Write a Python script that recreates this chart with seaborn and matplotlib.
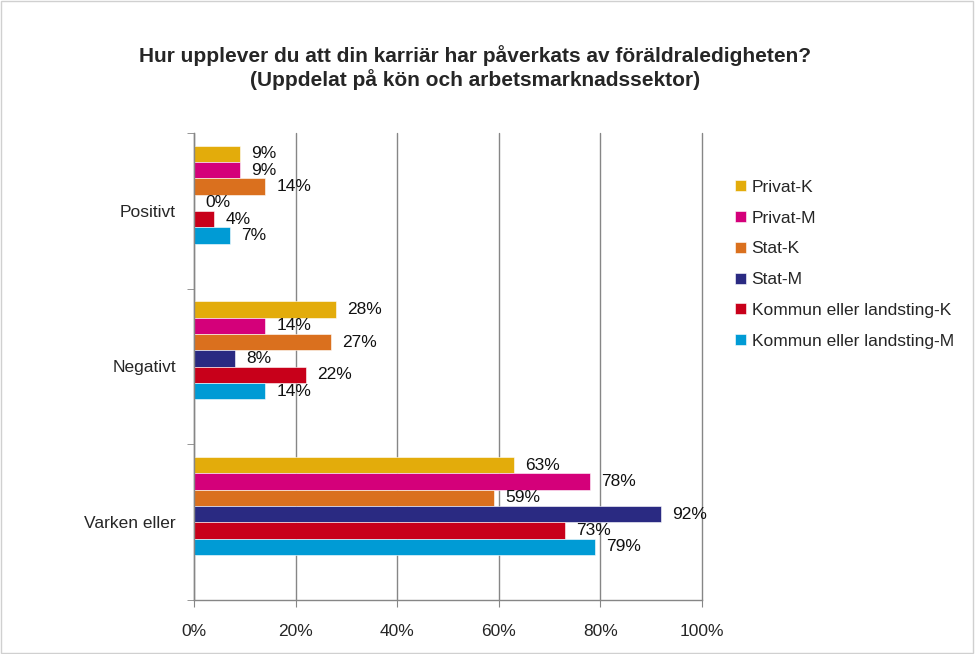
import pandas as pd
import matplotlib.pyplot as plt
import seaborn as sns
from matplotlib.patches import Rectangle
from matplotlib.ticker import FixedLocator

categories = ['Positivt', 'Negativt', 'Varken eller']
groups = ['Privat-K', 'Privat-M', 'Stat-K', 'Stat-M',
          'Kommun eller landsting-K', 'Kommun eller landsting-M']
privat_k = [9, 28, 63]
privat_m = [9, 14, 78]
stat_k = [14, 27, 59]
stat_m = [0, 8, 92]
kommun_k = [4, 22, 73]
kommun_m = [7, 14, 79]
colors = ['#E3AC0B', '#D4007A', '#DA701E', '#2A2A82', '#C8001A', '#009BD5']

series = [privat_k, privat_m, stat_k, stat_m, kommun_k, kommun_m]
rows = []
for g, vals in zip(groups, series):
    for c, v in zip(categories, vals):
        rows.append({'category': c, 'group': g, 'value': v})
df = pd.DataFrame(rows)

sns.set_style('white')
plt.rcParams['font.family'] = ['Liberation Sans', 'DejaVu Sans']

fig = plt.figure(figsize=(9.75, 6.54), dpi=100)
ax = fig.add_axes([0.199, 0.0826, 0.521, 0.7141])

sns.barplot(data=df, x='value', y='category', hue='group', order=categories,
            hue_order=groups, palette=colors, width=0.63, orient='h',
            saturation=1, ax=ax, edgecolor='white', linewidth=0.4)

for cont in ax.containers:
    ax.bar_label(cont, labels=[f'{b.get_width():.0f}%' for b in cont],
                 padding=8, fontsize=12.5, color='#111111')

ax.set_xlim(0, 100)
ax.set_ylim(2.603, -0.397)
ax.set_xticks(range(0, 101, 20))
ax.set_xticklabels([f'{t}%' for t in range(0, 101, 20)], fontsize=12.5)
ax.set_yticks([i + 0.103 for i in range(len(categories))])
ax.set_yticklabels(categories, fontsize=12.5)
ax.yaxis.set_minor_locator(FixedLocator([i - 0.397 for i in range(len(categories) + 1)]))
ax.tick_params(axis='y', which='major', length=0, pad=13)
ax.tick_params(axis='y', which='minor', length=5, color='#868686', direction='out', left=True)
ax.tick_params(axis='x', length=5, color='#868686', direction='out', bottom=True, pad=12)
ax.set_xlabel('')
ax.set_ylabel('')

ax.grid(axis='x', color='#868686', linewidth=1)
for gl in ax.get_xgridlines():
    gl.set_clip_on(False)
ax.set_axisbelow(True)
for s in ['top', 'right']:
    ax.spines[s].set_visible(False)
for s in ['left', 'bottom']:
    ax.spines[s].set_color('#868686')
    ax.spines[s].set_linewidth(1)

handles, labels = ax.get_legend_handles_labels()
ax.get_legend().remove()
fig.legend(handles, labels, loc='upper left', bbox_to_anchor=(0.738, 0.749),
           frameon=False, handlelength=0.6, handleheight=0.6, labelspacing=0.91,
           handletextpad=0.35, fontsize=12.5)

fig.text(0.487, 0.897,
         'Hur upplever du att din karriär har påverkats av föräldraledigheten?\n'
         '(Uppdelat på kön och arbetsmarknadssektor)',
         ha='center', va='center', fontsize=15, fontweight='bold', linespacing=1.15)

fig.patches.append(Rectangle((0.001, 0.001), 0.997, 0.997, transform=fig.transFigure,
                             fill=False, edgecolor='#d0d0d0', linewidth=1))

fig.savefig('out.png', dpi=100)
